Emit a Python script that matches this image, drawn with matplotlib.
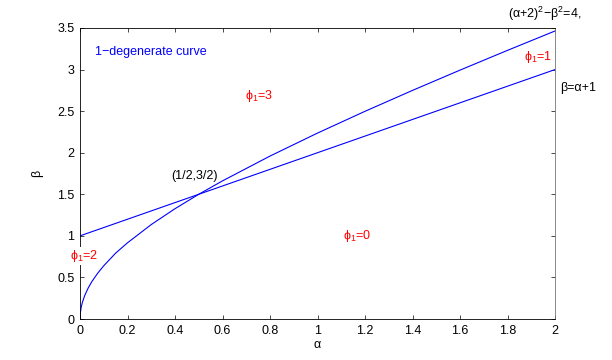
import matplotlib
matplotlib.use("Agg")
import matplotlib.pyplot as plt

plt.rcParams['font.family'] = ['Liberation Sans', 'DejaVu Sans']
plt.rcParams['mathtext.fontset'] = 'custom'
plt.rcParams['mathtext.rm'] = 'Liberation Sans'
plt.rcParams['mathtext.it'] = 'Liberation Sans'
plt.rcParams['mathtext.default'] = 'regular'

# line beta = alpha + 1
line_alpha = [0.0, 2.0]
line_beta = [1.0, 3.0]

# curve (alpha+2)^2 - beta^2 = 4
curve_alpha = [0.0, 0.0002, 0.001, 0.005, 0.01, 0.02, 0.035, 0.05, 0.075, 0.1, 0.15,
               0.2, 0.3, 0.4, 0.5, 0.6, 0.8, 1.0, 1.2, 1.4, 1.6, 1.8, 2.0]
curve_beta = [0.0, 0.0283, 0.0632, 0.1415, 0.2002, 0.2835, 0.3759, 0.4500, 0.5528,
              0.6403, 0.7921, 0.9165, 1.1358, 1.3266, 1.5, 1.6613, 1.9596, 2.2361,
              2.4980, 2.7495, 2.9933, 3.2311, 3.4641]

xticks = [0, 0.2, 0.4, 0.6, 0.8, 1, 1.2, 1.4, 1.6, 1.8, 2]
xticklabels = ['0', '0.2', '0.4', '0.6', '0.8', '1', '1.2', '1.4', '1.6', '1.8', '2']
yticks = [0, 0.5, 1, 1.5, 2, 2.5, 3, 3.5]
yticklabels = ['0', '0.5', '1', '1.5', '2', '2.5', '3', '3.5']

fig = plt.figure(figsize=(6.12, 3.6), dpi=100)
ax = fig.add_axes([80 / 612, 1 - 319 / 360, 475 / 612, 291 / 360])

ax.plot(line_alpha, line_beta, color='#0000ff', linewidth=0.8)
ax.plot(curve_alpha, curve_beta, color='#0000ff', linewidth=0.8)

ax.set_xlim(0, 2)
ax.set_ylim(0, 3.5)
ax.set_xticks(xticks)
ax.set_xticklabels(xticklabels)
ax.set_yticks(yticks)
ax.set_yticklabels(yticklabels)
ax.tick_params(direction='in', top=True, right=True, length=3, width=0.5,
               labelsize=9, pad=4)
for s in ax.spines.values():
    s.set_linewidth(0.6)
ax.spines['right'].set_color('#777777')

ax.set_xlabel('α', fontsize=9, labelpad=2)
ax.set_ylabel('β', fontsize=9, labelpad=10)

# annotations
ax.text(0.063, 3.21, '1\u2212degenerate curve', color='#0000ff', fontsize=9, va='center')
ax.text(0.695, 2.68, r'$\phi_1$=3', color='#ff0000', fontsize=9, va='center')
ax.text(0.383, 1.72, '(1/2,3/2)', color='black', fontsize=9, va='center')
ax.text(1.107, 1.0, r'$\phi_1$=0', color='#ff0000', fontsize=9, va='center')
ax.text(-0.042, 0.76, r'$\phi_1$=2', color='#ff0000', fontsize=9, va='center',
        bbox=dict(facecolor='white', edgecolor='none', pad=0.5), zorder=5,
        clip_on=False)
ax.text(1.87, 3.15, r'$\phi_1$=1', color='#ff0000', fontsize=9, va='center')
ax.text(1.80, 3.67, '(α+2)$^2$\u2212β$^2$=4,', color='black', fontsize=9,
        va='center', clip_on=False)
ax.text(2.02, 2.78, 'β=α+1', color='black', fontsize=9, va='center',
        clip_on=False)

fig.savefig('out.png', dpi=100)
